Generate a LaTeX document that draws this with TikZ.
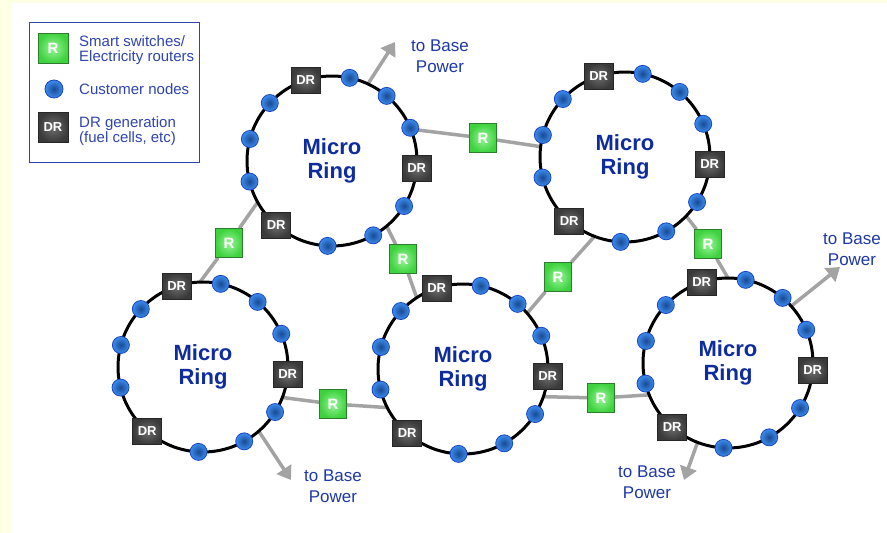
\documentclass[tikz,border=0pt]{standalone}
\usepackage{fontspec}
\setmainfont{Liberation Sans}
\usetikzlibrary{calc,math,arrows.meta,backgrounds}
\definecolor{cream}{HTML}{FFFFE6}
\definecolor{labelblue}{HTML}{1F38A8}
\definecolor{keyblue}{HTML}{3044B0}
\definecolor{ringblue}{HTML}{0E2C9E}
\definecolor{linkgray}{HTML}{A3A3A3}
\definecolor{dotdark}{HTML}{1A4A90}
\definecolor{dotlight}{HTML}{3B8CF0}
\definecolor{dotedge}{HTML}{1A45C0}
\definecolor{drdark}{HTML}{3A3A3A}
\definecolor{drlight}{HTML}{6E6E6E}
\definecolor{rdark}{HTML}{3ED23E}
\definecolor{rlight}{HTML}{9AF59A}
\definecolor{redge}{HTML}{2E7D2E}

\begin{document}
\begin{tikzpicture}[x=1pt,y=-1pt,
    ring/.style={circle,draw=black,line width=3pt,minimum size=170pt,inner sep=0pt,outer sep=0pt,
      align=center,text=ringblue,font=\fontsize{22}{24}\selectfont\bfseries},
    custnode/.style={circle,minimum size=17pt,inner sep=0pt,draw=dotedge,line width=0.8pt,
      inner color=dotdark,outer color=dotlight},
    drbox/.style={rectangle,minimum width=29pt,minimum height=26pt,inner sep=0pt,draw=black!85,line width=0.6pt,
      inner color=drlight,outer color=drdark,text=white,font=\fontsize{13}{13}\selectfont\bfseries},
    rbox/.style={rectangle,minimum width=27pt,minimum height=29pt,inner sep=0pt,draw=redge,line width=0.6pt,
      inner color=rlight,outer color=rdark,text=white,font=\fontsize{15}{15}\selectfont\bfseries},
    link/.style={draw=linkgray,line width=3.5pt},
    feed/.style={link,-{Triangle[length=13pt,width=17pt]}},
    base/.style={align=center,text=labelblue,font=\fontsize{17}{21}\selectfont},
    keytext/.style={anchor=west,align=left,inner sep=0pt,text=keyblue,font=\fontsize{15}{15}\selectfont},
  ]
  \useasboundingbox (0,0) rectangle (887,533);
  \begin{scope}[on background layer]
    \fill[cream] (0,0) rectangle (887,533);
    \fill[white] (12,3) rectangle (887,533);
  \end{scope}

  \node[ring] (A) at (332,161) {Micro\\Ring};
  \node[ring] (B) at (625,157) {Micro\\Ring};
  \node[ring] (C) at (203,367) {Micro\\Ring};
  \node[ring] (D) at (463,369) {Micro\\Ring};
  \node[ring] (E) at (728,363) {Micro\\Ring};

  \foreach \ring in {A,B,C,D,E} {
    \foreach \a in {282,310,337,32,61,93,166,195,223}
      \node[custnode] (\ring-c\a) at ($(\ring)+(\a:85)$) {};
    \foreach \a in {252,5,131}
      \node[drbox] (\ring-dr\a) at ($(\ring)+(\a:85)$) {DR};
  }

  \node[rbox] (r1) at (483,138) {R};
  \node[rbox] (r2) at (229,243) {R};
  \node[rbox] (r3) at (403,259) {R};
  \node[rbox] (r4) at (558,277) {R};
  \node[rbox] (r5) at (333,404) {R};
  \node[rbox] (r6) at (601,398) {R};
  \node[rbox] (r7) at (708,244) {R};

  \node[base] (base1) at (440,56) {to Base\\Power};
  \node[base] (base2) at (333,486) {to Base\\Power};
  \node[base] (base3) at (647,482) {to Base\\Power};
  \node[base] (base4) at (852,249) {to Base\\Power};
  \coordinate (tip1) at (395,42);
  \coordinate (tip2) at (291,480);
  \coordinate (tip3) at (684,480);
  \coordinate (tip4) at (840,267);

  \begin{scope}[on background layer]
    \draw[link] (A.22) -- (r1) -- (B.173);
    \draw[link] (A.209) -- (r2) -- (C.92);
    \draw[link] (A.310) -- (r3) -- (D.123);
    \draw[link] (B.249) -- (r4) -- (D.41);
    \draw[link] (C.339) -- (r5) -- (D.207);
    \draw[link] (D.341) -- (r6) -- (E.202);
    \draw[link] (B.316) -- (r7) -- (E.90);
    \draw[feed] (A.65) -- (tip1);
    \draw[feed] (C.311) -- (tip2);
    \draw[feed] (E.249) -- (tip3);
    \draw[feed] (E.42) -- (tip4);
  \end{scope}

  \node[draw=keyblue,line width=1pt,fill=white,minimum width=170pt,minimum height=140pt] (legend) at (114,92) {};
  \node[rbox,minimum size=30pt] (keyr) at (53,48) {R};
  \node[custnode,minimum size=18pt] (keyc) at (54,89) {};
  \node[drbox,minimum size=30pt] (keydr) at (53,127) {DR};
  \node[keytext] (keyrtext) at (79,50) {Smart switches/\\Electricity routers};
  \node[keytext] (keyctext) at (79,89) {Customer nodes};
  \node[keytext] (keydrtext) at (79,131) {DR generation\\(fuel cells, etc)};
\end{tikzpicture}
\end{document}
